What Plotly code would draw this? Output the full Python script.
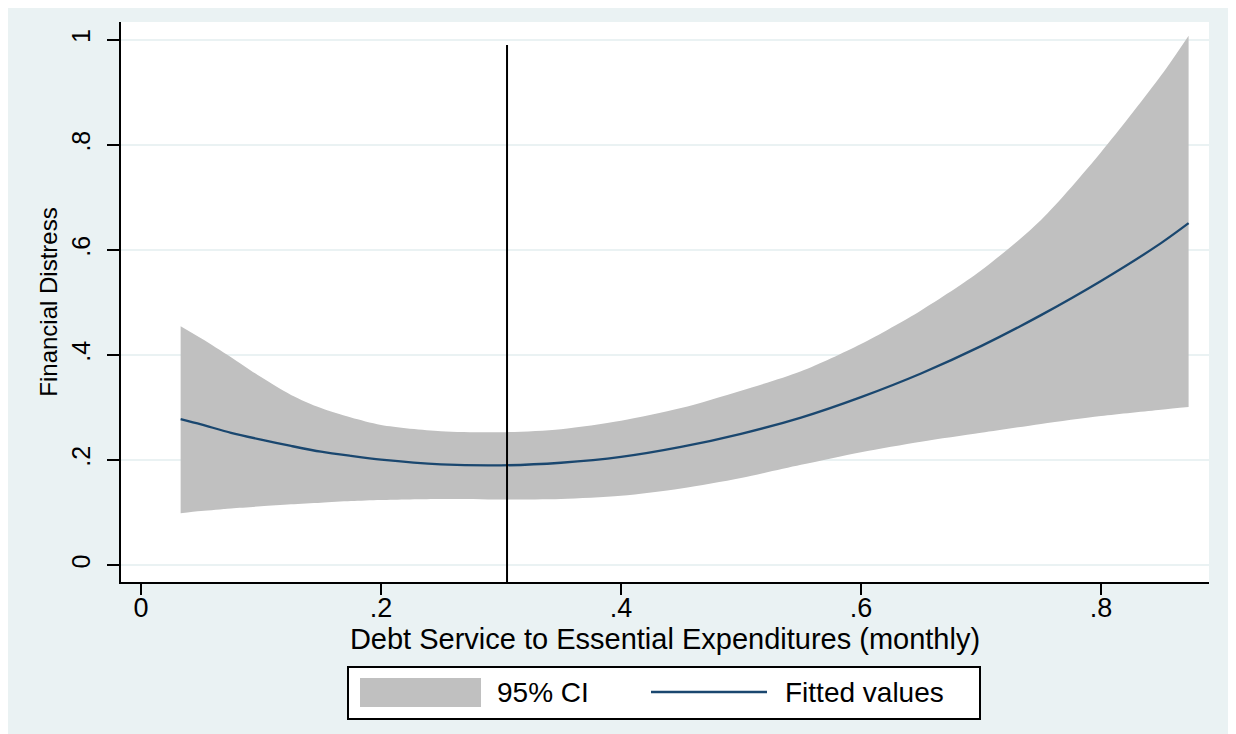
import plotly.graph_objects as go

# ---- data ----
x_vals = [0.033, 0.05, 0.075, 0.1, 0.125, 0.15, 0.175, 0.2, 0.25, 0.3, 0.35, 0.4,
          0.45, 0.5, 0.55, 0.6, 0.65, 0.7, 0.75, 0.8, 0.85, 0.873]
fitted = [0.278, 0.268, 0.252, 0.239, 0.227, 0.216, 0.208, 0.201, 0.192, 0.190, 0.195, 0.206,
          0.225, 0.250, 0.281, 0.320, 0.365, 0.417, 0.476, 0.541, 0.613, 0.651]
ci_upper = [0.455, 0.432, 0.396, 0.358, 0.324, 0.299, 0.281, 0.267, 0.255, 0.253, 0.259, 0.275,
            0.299, 0.332, 0.369, 0.421, 0.485, 0.561, 0.657, 0.786, 0.932, 1.008]
ci_lower = [0.099, 0.103, 0.108, 0.112, 0.116, 0.119, 0.122, 0.124, 0.126, 0.125, 0.126, 0.132,
            0.146, 0.166, 0.191, 0.215, 0.235, 0.252, 0.269, 0.284, 0.296, 0.301]
vline_x = 0.305
vline_top = 0.99

x_tickvals = [0, 0.2, 0.4, 0.6, 0.8]
x_ticktext = ["0", ".2", ".4", ".6", ".8"]
y_tickvals = [0, 0.2, 0.4, 0.6, 0.8, 1.0]
y_ticktext = ["0", ".2", ".4", ".6", ".8", "1"]

x_title = "Debt Service to Essential Expenditures (monthly)"
y_title = "Financial Distress"
legend_labels = ["95% CI", "Fitted values"]

# ---- styles ----
BG = "#EAF2F3"
CI_COLOR = "#C0C0C0"
FIT_COLOR = "#1A476F"
FONT = "Liberation Sans, Arial, sans-serif"
x_range = [-0.0167, 0.89]
y_range = [-0.032, 1.034]

fig = go.Figure()

# CI band: upper edge, then lower edge filled up to it
fig.add_trace(go.Scatter(
    x=x_vals, y=ci_upper, mode="lines",
    line=dict(width=0, color=CI_COLOR, shape="spline", smoothing=0.8),
    showlegend=False, hoverinfo="skip", name="upper"))
fig.add_trace(go.Scatter(
    x=x_vals, y=ci_lower, mode="lines", fill="tonexty", fillcolor=CI_COLOR,
    line=dict(width=0, color=CI_COLOR, shape="spline", smoothing=0.8),
    name=legend_labels[0], showlegend=False, hoverinfo="skip"))

fig.add_trace(go.Scatter(
    x=x_vals, y=fitted, mode="lines",
    line=dict(color=FIT_COLOR, width=2.3, shape="spline", smoothing=0.8),
    name=legend_labels[1], showlegend=False))

fig.add_trace(go.Scatter(
    x=[vline_x, vline_x], y=[y_range[0], vline_top], mode="lines",
    line=dict(color="black", width=2), showlegend=False, hoverinfo="skip"))

# page body has an 8px margin, so the figure is placed at (8, 8)
fig.update_layout(
    width=1228, height=726,
    paper_bgcolor=BG, plot_bgcolor="white",
    margin=dict(l=113, r=27, t=14, b=152),
    font=dict(family=FONT, color="black", size=24),
    showlegend=False,
)

fig.update_xaxes(
    range=x_range, tickvals=x_tickvals, ticktext=x_ticktext,
    showgrid=False, zeroline=False,
    showline=True, linecolor="black", linewidth=2,
    ticks="outside", ticklen=11, tickwidth=2, tickcolor="black",
    tickfont=dict(size=27), ticklabelstandoff=-10,
    title=dict(text=x_title, font=dict(size=29), standoff=4),
)
fig.update_yaxes(
    range=y_range, tickvals=y_tickvals, ticktext=y_ticktext,
    showgrid=True, gridcolor=BG, gridwidth=2, zeroline=False,
    showline=True, linecolor="black", linewidth=2,
    ticks="outside", ticklen=12, tickwidth=2, tickcolor="black",
    tickangle=-90, tickfont=dict(size=25), ticklabelstandoff=7,
    title=dict(text=y_title, font=dict(size=24), standoff=3),
)

# ---- legend box (Stata style, below the plot) ----
def px_x(p):
    return (p - 121) / 1088.0

def px_y(p):
    return (582 - p) / 560.0

shapes = [
    dict(type="rect", xref="paper", yref="paper",
         x0=px_x(348), x1=px_x(980), y0=px_y(719), y1=px_y(667),
         line=dict(color="black", width=2), fillcolor="white", layer="above"),
    dict(type="rect", xref="paper", yref="paper",
         x0=px_x(360), x1=px_x(481), y0=px_y(707), y1=px_y(678),
         line=dict(width=0), fillcolor=CI_COLOR, layer="above"),
    dict(type="line", xref="paper", yref="paper",
         x0=px_x(651), x1=px_x(767), y0=px_y(692), y1=px_y(692),
         line=dict(color=FIT_COLOR, width=2.5), layer="above"),
]
fig.update_layout(shapes=shapes)
fig.add_annotation(xref="paper", yref="paper", x=px_x(495), y=px_y(692),
                   text=legend_labels[0], showarrow=False, xanchor="left", yanchor="middle",
                   font=dict(size=28))
fig.add_annotation(xref="paper", yref="paper", x=px_x(783), y=px_y(692),
                   text=legend_labels[1], showarrow=False, xanchor="left", yanchor="middle",
                   font=dict(size=28))

fig.write_html("out.html")
